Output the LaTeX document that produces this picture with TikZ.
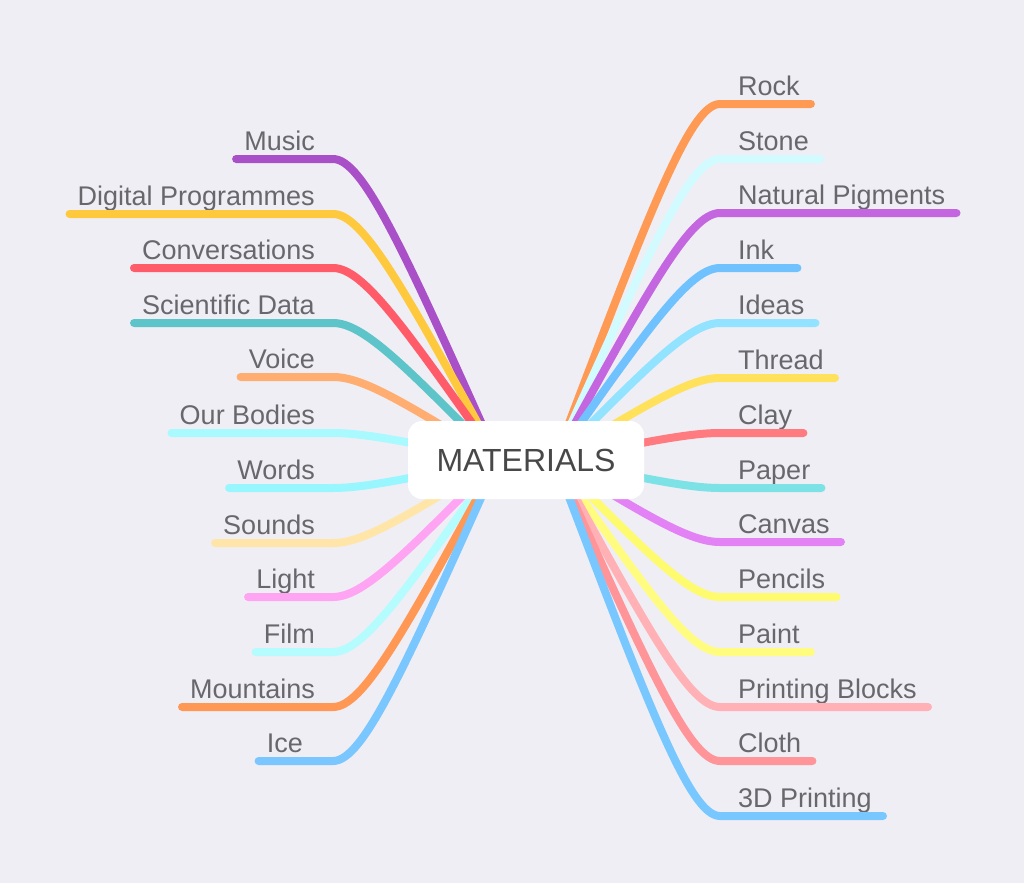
\documentclass[tikz,border=0pt]{standalone}
\usepackage{fontspec}
\setmainfont{Liberation Sans}
\usetikzlibrary{calc}
\definecolor{bg}{HTML}{EFEEF4}
\definecolor{txt}{HTML}{67676C}
\definecolor{ctr}{HTML}{484848}
% right
\definecolor{rRock}{HTML}{FF9A55}
\definecolor{rStone}{HTML}{D2FBFF}
\definecolor{rNat}{HTML}{C466E0}
\definecolor{rInk}{HTML}{70C2FF}
\definecolor{rIdeas}{HTML}{92E3FF}
\definecolor{rThread}{HTML}{FFE15C}
\definecolor{rClay}{HTML}{FF7B80}
\definecolor{rPaper}{HTML}{7DE2E6}
\definecolor{rCanvas}{HTML}{E282F5}
\definecolor{rPencils}{HTML}{FFFB6E}
\definecolor{rPaint}{HTML}{FFFC80}
\definecolor{rPB}{HTML}{FFB1B6}
\definecolor{rCloth}{HTML}{FF9499}
\definecolor{rTD}{HTML}{78C8FF}
% left
\definecolor{lMusic}{HTML}{A94FC7}
\definecolor{lDigital}{HTML}{FFC93E}
\definecolor{lConv}{HTML}{FF5B69}
\definecolor{lSci}{HTML}{5DC5C9}
\definecolor{lVoice}{HTML}{FFAD70}
\definecolor{lBodies}{HTML}{A8FAFF}
\definecolor{lWords}{HTML}{98F6FF}
\definecolor{lSounds}{HTML}{FFE6A8}
\definecolor{lLight}{HTML}{FFA3F3}
\definecolor{lFilm}{HTML}{B5FCFF}
\definecolor{lMount}{HTML}{FF9755}
\definecolor{lIce}{HTML}{7AC6FF}
\begin{document}
\begin{tikzpicture}[x=1pt,y=-1pt,
  br/.style={line width=8pt, line cap=round},
  lbl/.style={font=\fontsize{27}{31}\selectfont, text=txt, inner ysep=0pt},
  rlbl/.style={lbl, anchor=base west, inner xsep=11pt},
  llbl/.style={lbl, anchor=base east, inner xsep=8pt},
  centre/.style={fill=white, rounded corners=14pt, minimum width=236pt, minimum height=78pt,
    font=\fontsize{32}{36}\selectfont, text=ctr, inner sep=0pt}]
\fill[bg] (0,0) rectangle (1024,883);
\useasboundingbox (0,0) rectangle (1024,883);
\coordinate (rc) at (555,460);
\coordinate (lc) at (498,460);
% right branches
\foreach \i/\y/\t/\c/\e in {
  1/104/Rock/rRock/0, 2/159/Stone/rStone/0, 3/213/Natural Pigments/rNat/0,
  4/268/Ink/rInk/12, 5/323/Ideas/rIdeas/0, 6/378/Thread/rThread/0,
  7/433/Clay/rClay/0, 8/488/Paper/rPaper/0, 9/542/Canvas/rCanvas/0,
  10/597/Pencils/rPencils/0, 11/652/Paint/rPaint/0, 12/707/Printing Blocks/rPB/0,
  13/761/Cloth/rCloth/0, 14/816/3D Printing/rTD/0}{
  \node[rlbl] (r\i) at (727,{\y-9}) {\t};
  \coordinate (rh\i) at (720,\y);
  \coordinate (rk\i) at (690,\y);
  \draw[br, \c] (rc) .. controls ($(rc)!0.7!(rk\i)$) and (rk\i) .. (rh\i) -- (rh\i -| r\i.east) -- ++(\e,0);
}
% left branches
\foreach \i/\y/\t/\c/\s in {
  1/159/Music/lMusic/0, 2/214/Digital Programmes/lDigital/0, 3/268/Conversations/lConv/0,
  4/323/Scientific Data/lSci/0, 5/377/Voice/lVoice/0, 6/433/Our Bodies/lBodies/0,
  7/488/Words/lWords/0, 8/543/Sounds/lSounds/0, 9/597/Light/lLight/0,
  10/652/Film/lFilm/0, 11/707/Mountains/lMount/0, 12/761/Ice/lIce/-12}{
  \node[llbl] (l\i) at ({323+\s},{\y-9}) {\t};
  \coordinate (lh\i) at (333,\y);
  \coordinate (lk\i) at (363,\y);
  \draw[br, \c] (lc) .. controls ($(lc)!0.7!(lk\i)$) and (lk\i) .. (lh\i) -- (lh\i -| l\i.west);
}
\node[centre] (m) at (526,460) {MATERIALS};
\end{tikzpicture}
\end{document}
